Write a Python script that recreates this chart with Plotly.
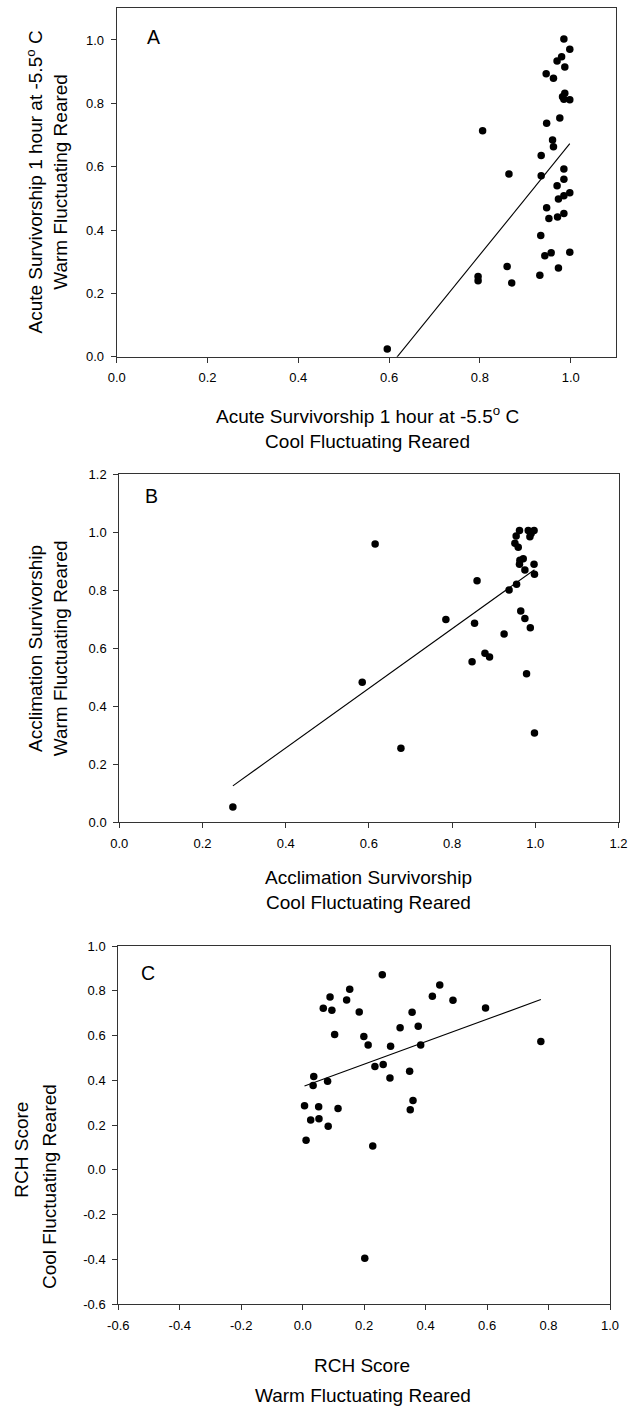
import plotly.graph_objects as go

# ---------------- Data ----------------
# Panel A: Acute survivorship (cool vs warm fluctuating reared)
a_cool = [0.985, 0.998, 0.970, 0.980, 0.987, 0.946, 0.962, 0.987, 0.982, 0.985,
          0.998, 0.976, 0.947, 0.806, 0.960, 0.962, 0.935, 0.864, 0.935, 0.985,
          0.985, 0.970, 0.973, 0.985, 0.998, 0.947, 0.952, 0.971, 0.985, 0.934,
          0.943, 0.957, 0.998, 0.860, 0.796, 0.796, 0.870, 0.932, 0.973, 0.596]
a_warm = [1.003, 0.971, 0.934, 0.947, 0.915, 0.893, 0.879, 0.832, 0.821, 0.813,
          0.811, 0.754, 0.737, 0.713, 0.684, 0.663, 0.635, 0.577, 0.571, 0.593,
          0.560, 0.540, 0.498, 0.508, 0.518, 0.470, 0.436, 0.441, 0.452, 0.383,
          0.319, 0.328, 0.330, 0.285, 0.253, 0.240, 0.233, 0.257, 0.280, 0.024]
a_fit_slope, a_fit_intercept = 1.77, -1.094

# Panel B: Acclimation survivorship
b_cool = [0.615, 0.962, 0.954, 0.951, 0.959, 0.983, 0.997, 0.987, 0.990, 0.971,
          0.963, 0.962, 0.997, 0.975, 0.998, 0.860, 0.955, 0.937, 0.785, 0.854,
          0.965, 0.975, 0.988, 0.925, 0.879, 0.890, 0.848, 0.979, 0.584, 0.273,
          0.677, 0.998]
b_warm = [0.959, 1.005, 0.986, 0.961, 0.947, 1.005, 1.005, 0.984, 0.995, 0.908,
          0.903, 0.889, 0.889, 0.869, 0.854, 0.832, 0.820, 0.800, 0.698, 0.685,
          0.728, 0.702, 0.670, 0.648, 0.582, 0.569, 0.553, 0.511, 0.482, 0.052,
          0.254, 0.307]
b_fit_slope, b_fit_intercept = 1.028, -0.156

# Panel C: RCH score
c_warm = [0.259, 0.446, 0.153, 0.089, 0.422, 0.143, 0.489, 0.067, 0.095, 0.184,
          0.356, 0.595, 0.376, 0.317, 0.104, 0.199, 0.213, 0.286, 0.384, 0.775,
          0.235, 0.262, 0.348, 0.284, 0.036, 0.034, 0.081, 0.006, 0.052, 0.115,
          0.359, 0.350, 0.026, 0.053, 0.083, 0.011, 0.228, 0.202]
c_cool = [0.872, 0.826, 0.807, 0.772, 0.775, 0.759, 0.757, 0.722, 0.713, 0.705,
          0.704, 0.723, 0.641, 0.635, 0.605, 0.595, 0.557, 0.552, 0.557, 0.573,
          0.461, 0.470, 0.440, 0.410, 0.417, 0.377, 0.395, 0.286, 0.282, 0.274,
          0.309, 0.268, 0.222, 0.228, 0.194, 0.132, 0.106, -0.396]
c_fit_slope, c_fit_intercept = 0.503, 0.371

# Tick labels for panel C (plain hyphen minus, as in the original)
c_tickvals = [-0.6, -0.4, -0.2, 0.0, 0.2, 0.4, 0.6, 0.8, 1.0]
c_ticktext = ["-0.6", "-0.4", "-0.2", "0.0", "0.2", "0.4", "0.6", "0.8", "1.0"]

# ---------------- Figure ----------------
FONT = "Liberation Sans, Arial, sans-serif"
W, H = 643, 1407


def fit_line(xs, slope, intercept):
    lx = [min(xs), max(xs)]
    return lx, [slope * v + intercept for v in lx]


fig = go.Figure()
panels = [
    (a_cool, a_warm, a_fit_slope, a_fit_intercept, "x", "y"),
    (b_cool, b_warm, b_fit_slope, b_fit_intercept, "x2", "y2"),
    (c_warm, c_cool, c_fit_slope, c_fit_intercept, "x3", "y3"),
]
for xs, ys, s, b, xa, ya in panels:
    lx, ly = fit_line(xs, s, b)
    fig.add_trace(go.Scatter(x=lx, y=ly, mode="lines",
                             line=dict(color="black", width=1.1),
                             xaxis=xa, yaxis=ya, hoverinfo="skip"))
    fig.add_trace(go.Scatter(x=xs, y=ys, mode="markers",
                             marker=dict(color="black", size=7.5),
                             xaxis=xa, yaxis=ya, cliponaxis=False))


def px_x(p):
    return p / W


def px_y(p):
    return (H - p) / H


def ax(domain, rng, anchor, tickvals=None, ticktext=None):
    d = dict(domain=domain, range=rng, anchor=anchor,
             showgrid=False, zeroline=False, showline=True, mirror=True,
             linecolor="#333333", linewidth=1,
             ticks="outside", ticklen=5, tickwidth=1, tickcolor="#333333",
             tick0=0, dtick=0.2, tickformat=".1f",
             ticklabelstandoff=4,
             tickfont=dict(family=FONT, size=13, color="black"))
    if tickvals is not None:
        d.update(tickmode="array", tickvals=tickvals, ticktext=ticktext)
    return d


layout = dict(
    width=W, height=H,
    margin=dict(l=0, r=0, t=0, b=0, autoexpand=False),
    paper_bgcolor="white", plot_bgcolor="white",
    showlegend=False,
    font=dict(family=FONT, color="black"),
    xaxis=ax([px_x(116.7), px_x(616.1)], [0, 1.1], "y"),
    yaxis=ax([px_y(356.7), px_y(8.3)], [0, 1.1], "x"),
    xaxis2=ax([px_x(119.3), px_x(618.5)], [0, 1.2], "y2"),
    yaxis2=ax([px_y(822), px_y(474)], [0, 1.2], "x2"),
    xaxis3=ax([px_x(118.3), px_x(610)], [-0.6, 1.0], "y3", c_tickvals, c_ticktext),
    yaxis3=ax([px_y(1304), px_y(946)], [-0.6, 1.0], "x3", c_tickvals, c_ticktext),
)
fig.update_layout(**layout)

TSZ = 19
annots = [
    ("A", 153, 37, 0, 19.5),
    ("B", 151.7, 496, 0, 19.5),
    ("C", 148.3, 973.3, 0, 19.5),
    ("Acute Survivorship 1 hour at -5.5<sup>o</sup> C<br>Cool Fluctuating Reared", 367, 427.5, 0, TSZ),
    ("Acute Survivorship 1 hour at -5.5<sup>o</sup> C<br>Warm Fluctuating Reared", 47.5, 182, -90, TSZ),
    ("Acclimation Survivorship<br>Cool Fluctuating Reared", 368, 890, 0, TSZ),
    ("Acclimation Survivorship<br>Warm Fluctuating Reared", 48.3, 648, -90, TSZ),
    ("RCH Score", 361.7, 1365, 0, TSZ),
    ("Warm Fluctuating Reared", 363.3, 1395, 0, TSZ),
    ("RCH Score", 20.7, 1150, -90, TSZ),
    ("Cool Fluctuating Reared", 49.3, 1186.7, -90, TSZ),
]
for text, x, y, ang, sz in annots:
    fig.add_annotation(text=text, x=px_x(x), y=px_y(y), xref="paper", yref="paper",
                       xanchor="center", yanchor="middle", showarrow=False,
                       textangle=ang, font=dict(family=FONT, size=sz, color="black"))

fig.write_html("out.html",
               config={"displayModeBar": False},
               post_script="document.body.style.margin='0';document.body.style.overflow='hidden';")
